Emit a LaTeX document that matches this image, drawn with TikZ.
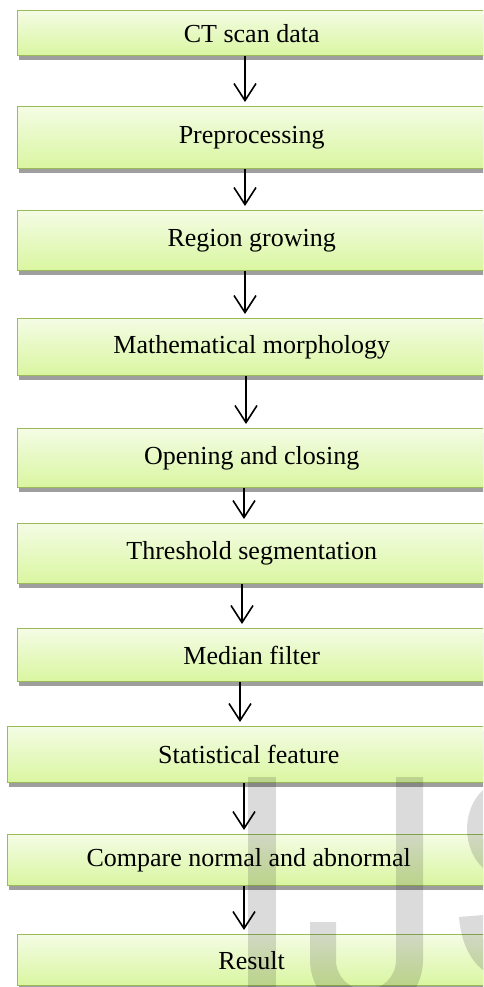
\documentclass[tikz,border=0pt]{standalone}
\usepackage{fontspec}
\setmainfont{Liberation Serif}
\usetikzlibrary{arrows.meta,shadows}
\definecolor{boxborder}{HTML}{9BBB59}
\definecolor{boxtop}{HTML}{F4FCE4}
\definecolor{boxbot}{HTML}{D9F6A0}
\definecolor{shadowgray}{HTML}{9E9E9E}
\tikzset{
  box/.style={draw=boxborder, line width=1.4pt, top color=boxtop, bottom color=boxbot,
    general shadow={fill=shadowgray, shadow xshift=1.5pt, shadow yshift=-4pt},
    font=\fontsize{26}{31}\selectfont, inner sep=0pt, anchor=north west},
  arr/.style={line width=1.6pt, -{Straight Barb[length=17pt,width=22pt]}, shorten >=4pt},
  wmark/.style={fill=black, opacity=0.14}
}
\begin{document}
\begin{tikzpicture}[x=1pt,y=1pt]
\useasboundingbox (0,0) rectangle (483,-987);
\fill[white] (0,0) rectangle (483,-987);
\clip (0,0) rectangle (483,-987);
\node[box, minimum width=468pt, minimum height=45pt] (b1) at (17,-10) {CT scan data};
\node[box, minimum width=468pt, minimum height=62pt] (b2) at (17,-106) {Preprocessing};
\node[box, minimum width=468pt, minimum height=60pt] (b3) at (17,-210) {Region growing};
\node[box, minimum width=468pt, minimum height=57pt] (b4) at (17,-318) {Mathematical morphology};
\node[box, minimum width=468pt, minimum height=59pt] (b5) at (17,-428) {Opening and closing};
\node[box, minimum width=468pt, minimum height=60pt] (b6) at (17,-523) {Threshold segmentation};
\node[box, minimum width=468pt, minimum height=53pt] (b7) at (17,-628) {Median filter};
\node[box, minimum width=482pt, minimum height=56pt] (b8) at (7,-726) {Statistical feature};
\node[box, minimum width=482pt, minimum height=51pt] (b9) at (7,-834) {Compare normal and abnormal};
\node[box, minimum width=468pt, minimum height=51pt] (b10) at (17,-934) {Result};
\coordinate (x1) at (245,0);
\coordinate (x2) at (245,0);
\coordinate (x3) at (245,0);
\coordinate (x4) at (246,0);
\coordinate (x5) at (244,0);
\coordinate (x6) at (242,0);
\coordinate (x7) at (240,0);
\coordinate (x8) at (244,0);
\coordinate (x9) at (244,0);
\draw[arr] (b1.south -| x1) -- (b2.north -| x1);
\draw[arr] (b2.south -| x2) -- (b3.north -| x2);
\draw[arr] (b3.south -| x3) -- (b4.north -| x3);
\draw[arr] (b4.south -| x4) -- (b5.north -| x4);
\draw[arr] (b5.south -| x5) -- (b6.north -| x5);
\draw[arr] (b6.south -| x6) -- (b7.north -| x6);
\draw[arr] (b7.south -| x7) -- (b8.north -| x7);
\draw[arr] (b8.south -| x8) -- (b9.north -| x8);
\draw[arr] (b9.south -| x9) -- (b10.north -| x9);
% watermark
\fill[wmark] (248,-777) rectangle (276,-990);
\fill[wmark] (423,-777) -- (423,-960) arc[start angle=0, end angle=-180, radius=56.5]
  -- (310,-922) -- (336,-922) -- (336,-960) arc[start angle=-180, end angle=0, radius=30]
  -- (396,-777) -- cycle;
\fill[wmark] (483,-790) .. controls (473,-799) and (467,-814) .. (467,-829)
  .. controls (467,-845) and (474,-860) .. (483,-868) -- cycle;
\fill[wmark] (459,-917) -- (483,-915) -- (483,-970)
  .. controls (470,-960) and (461,-942) .. (459,-917) -- cycle;
\end{tikzpicture}
\end{document}
